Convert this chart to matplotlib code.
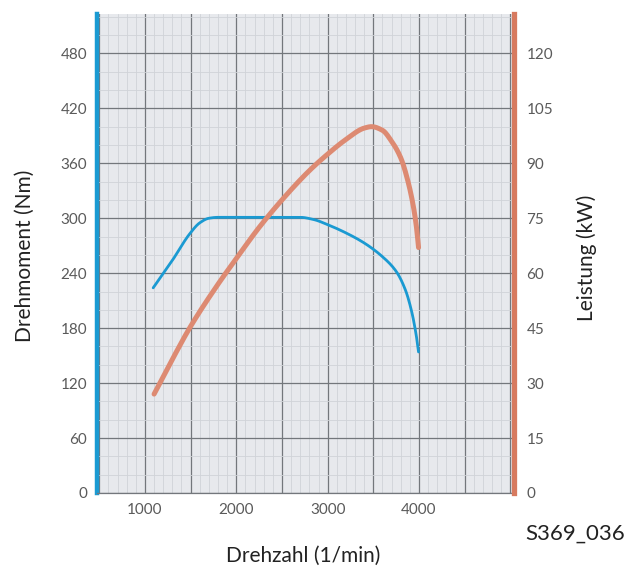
import matplotlib
matplotlib.use("Agg")
import matplotlib.pyplot as plt
from matplotlib.ticker import MultipleLocator
import numpy as np

plt.rcParams['font.family'] = ['Lato', 'DejaVu Sans']

# Data
torque_rpm = [1090, 1300, 1490, 1600, 1700, 1800, 2200, 2700, 2850, 3000, 3200, 3400, 3600, 3750, 3850, 3920, 3970, 3995]
torque_nm = [224, 254, 283, 295, 300, 301, 301, 301, 298.5, 293, 284, 273, 258, 242, 222, 198, 172, 154]

power_rpm = [1100, 1300, 1500, 1800, 2000, 2250, 2500, 2800, 3000, 3200, 3400, 3480, 3600, 3700, 3800, 3880, 3940, 3975, 3995]
power_kw = [27, 36.5, 45.5, 57, 64, 72.5, 80, 88, 92.5, 96.5, 99.6, 100, 99, 96, 91.5, 85, 78, 72, 67]

x_ticks = [1000, 2000, 3000, 4000]
y_left_ticks = [0, 60, 120, 180, 240, 300, 360, 420, 480]
y_right_ticks = [0, 15, 30, 45, 60, 75, 90, 105, 120]


def pchip(x, y, n=400):
    """Monotone cubic drawing of a polyline through the read points."""
    x = np.asarray(x, float); y = np.asarray(y, float)
    h = np.diff(x); d = np.diff(y) / h
    m = np.zeros_like(y)
    for k in range(1, len(x) - 1):
        if d[k - 1] * d[k] > 0:
            w1 = 2 * h[k] + h[k - 1]; w2 = h[k] + 2 * h[k - 1]
            m[k] = (w1 + w2) / (w1 / d[k - 1] + w2 / d[k])
    m[0] = d[0]; m[-1] = d[-1]
    xs = np.linspace(x[0], x[-1], n)
    idx = np.clip(np.searchsorted(x, xs) - 1, 0, len(x) - 2)
    t = (xs - x[idx]) / h[idx]
    h00 = 2 * t**3 - 3 * t**2 + 1; h10 = t**3 - 2 * t**2 + t
    h01 = -2 * t**3 + 3 * t**2; h11 = t**3 - t**2
    ys = h00 * y[idx] + h10 * h[idx] * m[idx] + h01 * y[idx + 1] + h11 * h[idx] * m[idx + 1]
    return xs, ys


fig = plt.figure(figsize=(6.29, 5.74), dpi=100)
ax = fig.add_axes([97/629, 1 - 493/574, (514 - 97)/629, (493 - 14)/574])
ax.set_facecolor('#e7e9ed')

xmin, xmax = 475, 5040
ymax = 523
ax.set_xlim(xmin, xmax)
ax.set_ylim(0, ymax)

major_x = np.arange(500, 5001, 500)
ax.set_xticks(major_x)
ax.set_xticklabels([str(v) if v in x_ticks else '' for v in major_x])
ax.xaxis.set_minor_locator(MultipleLocator(100))
ax.set_yticks(y_left_ticks)
ax.set_yticklabels([str(v) for v in y_left_ticks])
ax.yaxis.set_minor_locator(MultipleLocator(20))
ax.grid(which='major', color='#73777c', linewidth=0.9)
ax.grid(which='minor', color='#d0d3d8', linewidth=0.6)
ax.set_axisbelow(True)
ax.tick_params(axis='both', which='both', length=0, labelsize=11, colors='#5a5a5a', pad=7)

for s in ['top', 'right']:
    ax.spines[s].set_visible(False)
ax.spines['bottom'].set_color('#73777c')
ax.spines['bottom'].set_linewidth(0.9)
ax.spines['left'].set_color('#1a9ad2')
ax.spines['left'].set_linewidth(3.2)

tx, ty = pchip(torque_rpm, torque_nm)
ax.plot(tx, ty, color='#1a9ad2', linewidth=2.0, solid_capstyle='round', zorder=4)

ax2 = ax.twinx()
ax2.set_ylim(0, ymax / 4)
ax2.set_yticks(y_right_ticks)
ax2.set_yticklabels([str(v) for v in y_right_ticks])
ax2.tick_params(axis='y', length=0, labelsize=11, colors='#5a5a5a', pad=9)
for s in ['top', 'left', 'bottom']:
    ax2.spines[s].set_visible(False)
ax2.spines['right'].set_color('#d77a5f')
ax2.spines['right'].set_linewidth(3.8)
px, py = pchip(power_rpm, power_kw)
ax2.plot(px, py, color='#dd8a72', linewidth=3.6, solid_capstyle='round', zorder=3)

fig.text(25/629, 1 - 256/574, 'Drehmoment (Nm)', fontsize=15, color='#222222',
         rotation=90, ha='center', va='center')
fig.text(587/629, 1 - 258/574, 'Leistung (kW)', fontsize=15, color='#222222',
         rotation=90, ha='center', va='center')
fig.text(303/629, 1 - 556/574, 'Drehzahl (1/min)', fontsize=15, color='#222222',
         ha='center', va='center')
fig.text(575/629, 1 - 534/574, 'S369_036', fontsize=16, color='#222222', ha='center', va='center')

fig.savefig('out.png', dpi=100)
